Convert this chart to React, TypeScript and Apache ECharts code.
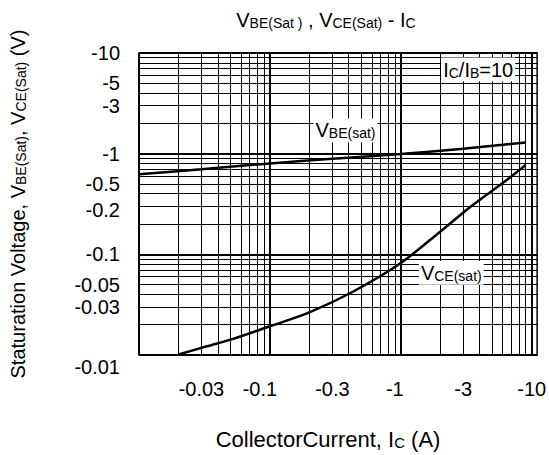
import React, { useEffect, useRef } from 'react';
import * as echarts from 'echarts';

// Collector current (A, magnitude) tick labels on the x axis
const currentTicks = [0.03, 0.1, 0.3, 1, 3, 10];
// Voltage (V, magnitude) tick labels on the y axis
const voltageTicks = [10, 5, 3, 1, 0.5, 0.2, 0.1, 0.05, 0.03, 0.01];

// VBE(sat) curve
const vbeCurrent = [0.01, 0.03, 0.1, 0.3, 1, 3, 9];
const vbeVoltage = [0.625, 0.7, 0.8, 0.89, 0.99, 1.12, 1.29];

// VCE(sat) curve
const vceCurrent = [0.02, 0.033, 0.05, 0.1, 0.2, 0.43, 1, 2, 3.45, 6.6, 9];
const vceVoltage = [0.0101, 0.0122, 0.0142, 0.0193, 0.0265, 0.0425, 0.082, 0.168, 0.3, 0.56, 0.77];

const FONT = 'Liberation Sans, Arial, Helvetica, sans-serif';

function logGrid(lo: number, hi: number): number[] {
  const out: number[] = [];
  for (let e = Math.floor(Math.log10(lo)); e <= Math.ceil(Math.log10(hi)); e++) {
    for (let m = 1; m <= 9; m++) {
      const v = +(m * Math.pow(10, e)).toPrecision(6);
      if (v >= lo * 0.9999 && v <= hi * 1.0001) out.push(v);
    }
  }
  return out;
}

function isDecade(v: number) {
  const l = Math.log10(v);
  return Math.abs(l - Math.round(l)) < 1e-6;
}

function num(v: number) {
  return +(+v).toPrecision(6);
}

const sub = (size: number) => ({
  fontSize: size,
  fontFamily: FONT,
  color: '#000',
  lineHeight: 10,
  verticalAlign: 'bottom' as const,
});

const tickText = (extra: any) => ({
  fontSize: 20,
  fontFamily: FONT,
  color: '#000',
  ...extra,
});

export default function App() {
  const ref = useRef<HTMLDivElement>(null);
  useEffect(() => {
    if (!ref.current) return;
    const chart = echarts.init(ref.current, null, { renderer: 'svg' });
    const xMin = 0.01;
    const xMax = 11;
    const yMin = 0.01;
    const yMax = 10;
    const gridLines = [
      ...logGrid(xMin, 10).map((v) => ({ xAxis: v, lineStyle: { width: isDecade(v) ? 2 : 1 } })),
      ...logGrid(yMin, yMax).map((v) => ({ yAxis: v, lineStyle: { width: isDecade(v) ? 2 : 1 } })),
    ];
    const option: any = {
      animation: false,
      backgroundColor: '#fff',
      textStyle: { fontFamily: FONT },
      graphic: [
        {
          type: 'text',
          x: 326,
          y: 20,
          style: {
            text: 'V{s|BE(Sat )} , V{s|CE(Sat)} - I{s|C}',
            fontSize: 20,
            fontFamily: FONT,
            fill: '#000',
            align: 'center',
            verticalAlign: 'middle',
            rich: { s: sub(14) },
          },
        },
      ],
      grid: {
        left: 127,
        right: 11,
        top: 53,
        bottom: 98,
        show: true,
        borderColor: '#000',
        borderWidth: 1.5,
        backgroundColor: 'transparent',
      },
      xAxis: {
        type: 'log',
        logBase: 10,
        min: xMin,
        max: xMax,
        name: 'CollectorCurrent, I{s|C} (A)',
        nameLocation: 'middle',
        nameGap: 73,
        nameTextStyle: {
          fontSize: 22,
          fontFamily: FONT,
          color: '#000',
          padding: [0, 20, 0, 0],
          rich: { s: sub(15) },
        },
        axisLine: { show: false },
        axisTick: { show: false },
        splitLine: { show: false },
        minorSplitLine: { show: false },
        axisLabel: {
          customValues: currentTicks,
          formatter: (v: number) => {
            const n = num(v);
            if (n === 0.1) return '{l10|-' + n + '}';
            if (n === 1) return '{l6|-' + n + '}';
            return '{n|-' + n + '}';
          },
          fontSize: 20,
          fontFamily: FONT,
          color: '#000',
          margin: 24,
          rich: {
            n: tickText({}),
            l10: tickText({ padding: [0, 20, 0, 0] }),
            l6: tickText({ padding: [0, 12, 0, 0] }),
          },
        },
      },
      yAxis: {
        type: 'log',
        logBase: 10,
        min: yMin,
        max: yMax,
        name: 'Staturation Voltage, V{s|BE(Sat)}, V{s|CE(Sat)} (V)',
        nameLocation: 'middle',
        nameRotate: 90,
        nameGap: 111,
        nameTextStyle: { fontSize: 20, fontFamily: FONT, color: '#000', rich: { s: sub(14) } },
        axisLine: { show: false },
        axisTick: { show: false },
        splitLine: { show: false },
        minorSplitLine: { show: false },
        axisLabel: {
          customValues: voltageTicks,
          formatter: (v: number) => {
            const n = num(v);
            if (n === 0.2) return '{up|-' + n + '}';
            if (n === 0.01) return '{down|-' + n + '}';
            return '{n|-' + n + '}';
          },
          fontSize: 20,
          fontFamily: FONT,
          color: '#000',
          margin: 19,
          rich: {
            n: tickText({}),
            up: tickText({ padding: [0, 0, 28, 0] }),
            down: tickText({ padding: [24, 0, 0, 0] }),
          },
        },
      },
      series: [
        {
          name: 'VBE(sat)',
          type: 'line',
          z: 3,
          smooth: 0.3,
          showSymbol: false,
          symbol: 'none',
          lineStyle: { color: '#000', width: 2.5 },
          data: vbeCurrent.map((c, i) => [c, vbeVoltage[i]]),
          markLine: {
            silent: true,
            z: 1,
            symbol: ['none', 'none'],
            label: { show: false },
            lineStyle: { color: '#000', width: 1, type: 'solid' },
            emphasis: { disabled: true },
            data: gridLines,
          },
        },
        {
          name: 'VCE(sat)',
          type: 'line',
          z: 3,
          smooth: 0.3,
          showSymbol: false,
          symbol: 'none',
          lineStyle: { color: '#000', width: 2.5 },
          data: vceCurrent.map((c, i) => [c, vceVoltage[i]]),
          markPoint: {
            silent: true,
            z: 6,
            symbol: 'rect',
            symbolSize: 1,
            itemStyle: { color: 'rgba(0,0,0,0)' },
            label: {
              show: true,
              position: 'inside',
              backgroundColor: '#fff',
              padding: [2, 2, 2, 2],
              fontSize: 20,
              fontFamily: FONT,
              color: '#000',
              rich: { s: sub(14) },
            },
            data: [
              { coord: [0.378, 1.7], label: { formatter: 'V{s|BE(sat)}' } },
              { coord: [2.43, 0.0657], label: { formatter: 'V{s|CE(sat)}' } },
              { coord: [3.9, 6.84], label: { formatter: 'I{s|C}/I{s|B}=10' } },
            ],
          },
        },
      ],
    };
    chart.setOption(option);
    return () => chart.dispose();
  }, []);
  return <div ref={ref} style={{ position: 'absolute', left: 0, top: 0, width: 549, height: 455 }} />;
}
